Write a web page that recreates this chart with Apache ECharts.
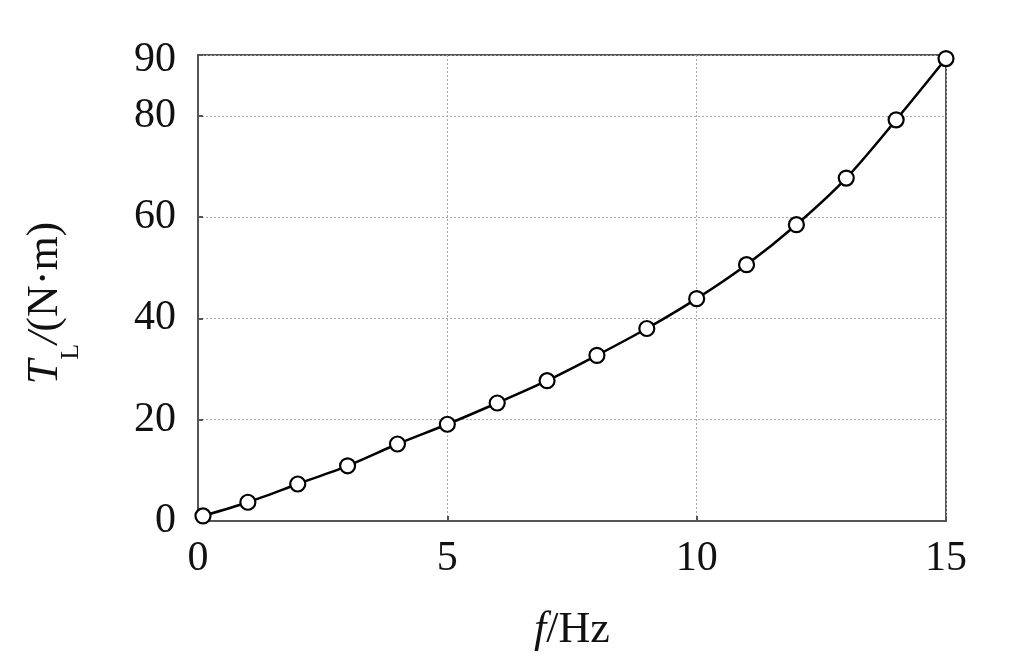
<!DOCTYPE html>
<html>
<head>
<meta charset="utf-8">
<script src="https://cdn.jsdelivr.net/npm/echarts@6/dist/echarts.min.js"></script>
<style>html,body{margin:0;padding:0;background:#fff}#c{width:1025px;height:670px}</style>
</head>
<body>
<div id="c"></div>
<script>
var freqHz = [0.1, 1, 2, 3, 4, 5, 6, 7, 8, 9, 10, 11, 12, 13, 14, 15];
var torqueNm = [1.0, 3.7, 7.3, 10.9, 15.2, 19.1, 23.3, 27.7, 32.7, 38.0, 43.9, 50.6, 58.5, 67.7, 79.2, 91.3];
var yTopLabel = '90';

var chart = echarts.init(document.getElementById('c'));
var font = 'Liberation Serif, Times New Roman, serif';
var pts = freqHz.map(function (f, i) { return [f, torqueNm[i]]; });

chart.setOption({
  animation: false,
  backgroundColor: '#fff',
  grid: { left: 198, right: 79, top: 55, bottom: 149, show: true, borderColor: '#555', borderWidth: 2, backgroundColor: 'transparent' },
  xAxis: {
    type: 'value', min: 0, max: 15, interval: 5,
    name: '{i|f}{n|/Hz}', nameLocation: 'middle', nameGap: 87,
    nameTextStyle: { rich: { i: { fontFamily: font, fontStyle: 'italic', fontSize: 44, color: '#111' }, n: { fontFamily: font, fontSize: 44, color: '#111' } } },
    axisLine: { show: true, lineStyle: { color: '#555', width: 2 } },
    axisTick: { show: true, inside: true, length: 5, lineStyle: { color: '#555', width: 2 } },
    axisLabel: { fontFamily: font, fontSize: 42, color: '#111', margin: 17 },
    splitLine: { show: true, lineStyle: { color: '#aaa', type: [2, 2], width: 1 } }
  },
  yAxis: {
    type: 'value', min: 0, max: 92, interval: 20,
    name: '{i|T}{s|L}{i|/}{n|(N·m)}', nameLocation: 'middle', nameGap: 128,
    nameTextStyle: { padding: [0, 30, 0, 0], rich: {
      i: { fontFamily: font, fontStyle: 'italic', fontSize: 44, color: '#111', lineHeight: 50, verticalAlign: 'middle' },
      s: { fontFamily: font, fontSize: 26, color: '#111', verticalAlign: 'bottom', lineHeight: 50, padding: [0, 0, -14, 0] },
      n: { fontFamily: font, fontSize: 44, color: '#111', lineHeight: 50, verticalAlign: 'middle' }
    } },
    axisLine: { show: true, lineStyle: { color: '#555', width: 2 } },
    axisTick: { show: true, inside: true, length: 5, lineStyle: { color: '#555', width: 2 } },
    axisLabel: { fontFamily: font, fontSize: 42, color: '#111', margin: 22,
      formatter: function (v) { return v === 92 ? '{t|' + yTopLabel + '}' : String(v); },
      rich: { t: { fontFamily: font, fontSize: 42, color: '#111', padding: [10, 0, 0, 0] } } },
    splitLine: { show: true, lineStyle: { color: '#aaa', type: [2, 2], width: 1 } }
  },
  series: [{
    type: 'line', data: pts, smooth: 0.3,
    symbol: 'circle', symbolSize: 15, showAllSymbol: true,
    lineStyle: { color: '#000', width: 2.5 },
    itemStyle: { color: '#fff', borderColor: '#000', borderWidth: 2.2 },
    z: 5
  }]
});
</script>
</body>
</html>
